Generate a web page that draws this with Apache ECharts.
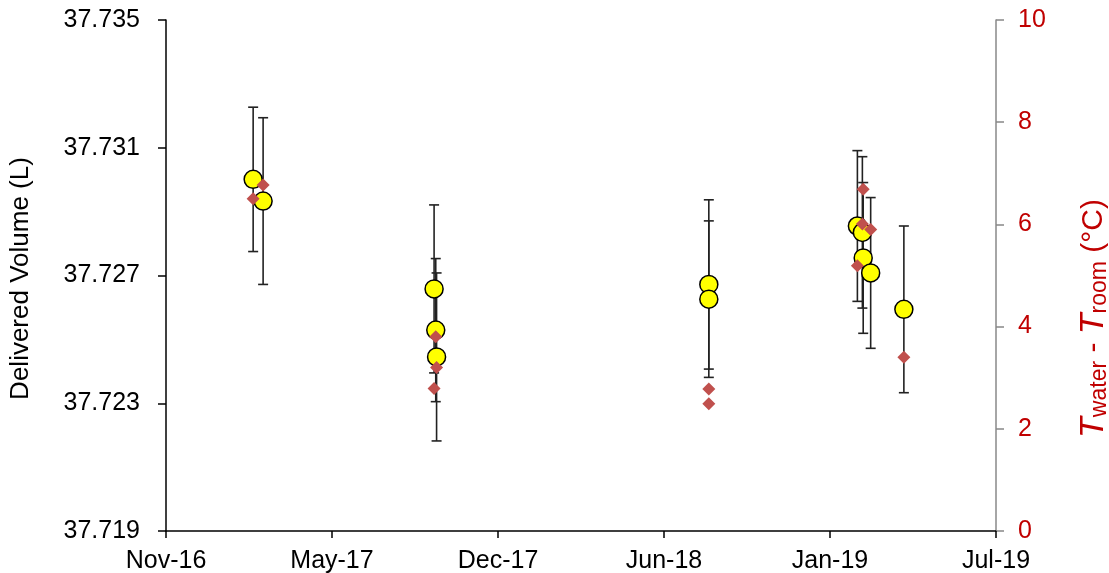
<!DOCTYPE html>
<html>
<head>
<meta charset="utf-8">
<script src="https://cdn.jsdelivr.net/npm/echarts@6/dist/echarts.min.js"></script>
<style>
  html, body { margin: 0; padding: 0; background: #fff; }
  #chart { width: 1109px; height: 573px; }
</style>
</head>
<body>
<div id="chart"></div>
<script>
// measurement dates
var dates = ['2017-02-14', '2017-02-26', '2017-09-20', '2017-09-22', '2017-09-23',
             '2018-08-17', '2018-08-17', '2019-02-12', '2019-02-18', '2019-02-19',
             '2019-02-28', '2019-04-09'];
// delivered volume (L)
var volume = [37.73001, 37.72933, 37.72658, 37.72529, 37.72445,
              37.72672, 37.72626, 37.72855, 37.72835, 37.72755,
              37.72708, 37.72594];
// +/- error (L)
var volErr = [0.00226, 0.00261, 0.00263, 0.00224, 0.00263,
              0.00265, 0.00245, 0.00236, 0.00237, 0.00236,
              0.00236, 0.00261];
// T water - T room (°C)
var tempDiff = [6.50, 6.77, 2.79, 3.80, 3.20,
                2.78, 2.49, 5.19, 6.01, 6.69,
                5.90, 3.40];

var xTickLabels = ['Nov-16', 'May-17', 'Dec-17', 'Jun-18', 'Jan-19', 'Jul-19'];
var volTickBase = 37.719;   // bottom of the left axis
var dayZero = Date.UTC(2016, 10, 1);

function dayOf(s) {
    var p = s.split('-');
    return (Date.UTC(+p[0], +p[1] - 1, +p[2]) - dayZero) / 86400000;
}
// left axis drawn in mL above 37.719 so ticks start at 0
function volPos(v) {
    return (v - volTickBase) * 1000;
}

var volData = [], errData = [], tempData = [];
for (var i = 0; i < dates.length; i++) {
    var d = dayOf(dates[i]);
    volData.push([d, volPos(volume[i])]);
    errData.push([d, volPos(volume[i] - volErr[i]), volPos(volume[i] + volErr[i])]);
    tempData.push([d, tempDiff[i]]);
}

var chart = echarts.init(document.getElementById('chart'));

var font = 'Liberation Sans, Arial, sans-serif';
var red = '#C00000';

var option = {
    animation: false,
    grid: {
        left: 166,
        right: 113,
        top: 20,
        bottom: 42,
        outerBoundsMode: 'none'
    },
    xAxis: {
        type: 'value',
        min: 0,
        max: 1000,
        interval: 200,
        axisLine: { lineStyle: { color: '#000', width: 1.5 } },
        axisTick: { length: 7, lineStyle: { color: '#000', width: 1.5 } },
        axisLabel: {
            color: '#000',
            fontFamily: font,
            fontSize: 25,
            margin: 18,
            formatter: function (v) { return xTickLabels[Math.round(v / 200)]; }
        },
        splitLine: { show: false }
    },
    yAxis: [
        {
            type: 'value',
            min: 0,
            max: 16,
            interval: 4,
            name: 'Delivered Volume (L)',
            nameLocation: 'middle',
            nameRotate: 90,
            nameGap: 132,
            nameTextStyle: { color: '#000', fontFamily: font, fontSize: 26, padding: [0, 6, 0, 0] },
            axisLine: { show: true, lineStyle: { color: '#000', width: 1.5 } },
            axisTick: { show: true, length: 8, lineStyle: { color: '#000', width: 1.5 } },
            axisLabel: {
                color: '#000',
                fontFamily: font,
                fontSize: 25,
                margin: 26,
                formatter: function (v) { return (volTickBase + v / 1000).toFixed(3); }
            },
            splitLine: { show: false }
        },
        {
            type: 'value',
            min: 0,
            max: 10,
            interval: 2,
            position: 'right',
            name: '{t|T}{sub|water}{n| - }{t|T}{sub|room}{n| (°C)}',
            nameLocation: 'middle',
            nameRotate: 90,
            nameGap: 81,
            nameTextStyle: {
                color: red,
                fontFamily: font,
                // the title sits below the middle of the axis
                padding: [0, 86, 0, 0],
                rich: {
                    t: { fontSize: 34, fontStyle: 'italic', color: red, fontFamily: font, lineHeight: 34 },
                    sub: { fontSize: 23, color: red, fontFamily: font, verticalAlign: 'bottom', lineHeight: 16 },
                    n: { fontSize: 30, color: red, fontFamily: font, lineHeight: 34 }
                }
            },
            axisLine: { show: true, lineStyle: { color: '#888', width: 1.5 } },
            axisTick: { show: true, length: 8, lineStyle: { color: '#888', width: 1.5 } },
            axisLabel: {
                color: red,
                fontFamily: font,
                fontSize: 25,
                margin: 22
            },
            splitLine: { show: false }
        }
    ],
    series: [
        {
            // error bars
            type: 'custom',
            yAxisIndex: 0,
            z: 1,
            data: errData,
            renderItem: function (params, api) {
                var lo = api.coord([api.value(0), api.value(1)]);
                var hi = api.coord([api.value(0), api.value(2)]);
                var w = 5;
                var st = { stroke: '#222', lineWidth: 1.6 };
                return {
                    type: 'group',
                    children: [
                        { type: 'line', shape: { x1: lo[0], y1: lo[1], x2: hi[0], y2: hi[1] }, style: st },
                        { type: 'line', shape: { x1: lo[0] - w, y1: lo[1], x2: lo[0] + w, y2: lo[1] }, style: st },
                        { type: 'line', shape: { x1: hi[0] - w, y1: hi[1], x2: hi[0] + w, y2: hi[1] }, style: st }
                    ]
                };
            }
        },
        {
            name: 'Volume',
            type: 'scatter',
            yAxisIndex: 0,
            z: 2,
            symbol: 'circle',
            symbolSize: 18,
            itemStyle: { color: '#FFFF00', borderColor: '#000', borderWidth: 1.5, opacity: 1 },
            data: volData
        },
        {
            name: 'Temp',
            type: 'scatter',
            yAxisIndex: 1,
            z: 3,
            symbol: 'diamond',
            symbolSize: [13, 13],
            itemStyle: { color: '#C0504D', opacity: 1 },
            data: tempData
        }
    ]
};

chart.setOption(option);
</script>
</body>
</html>
